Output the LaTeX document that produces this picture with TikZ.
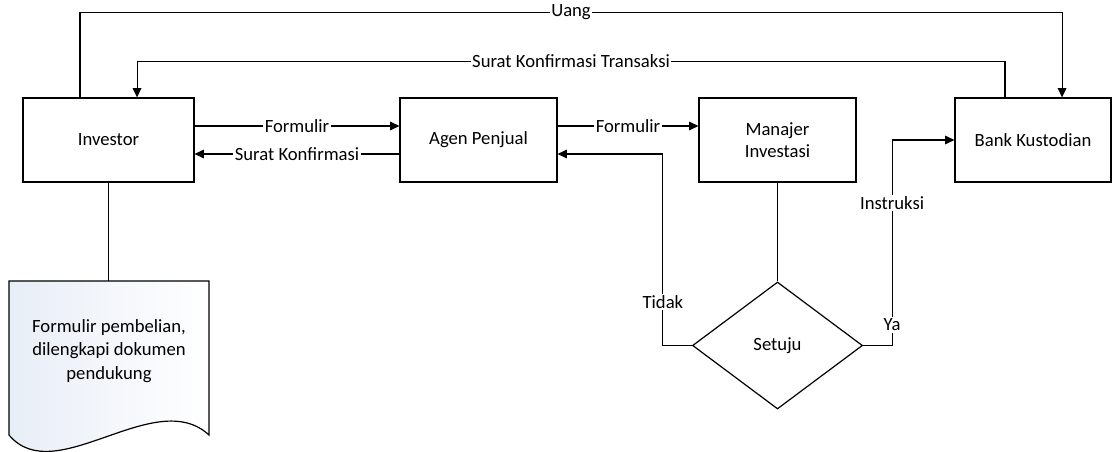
\documentclass[tikz,border=0pt]{standalone}
\usepackage{fontspec}
\setmainfont{Carlito}
\usetikzlibrary{shapes.geometric,arrows.meta,shadows}
\definecolor{docshade}{RGB}{232,238,247}
\tikzset{
  box/.style={draw, line width=0.9pt, fill=white, minimum height=63pt, inner sep=2pt, align=center,
    drop shadow={opacity=0.12, shadow xshift=1pt, shadow yshift=-1pt}},
  lbl/.style={fill=white, inner sep=1.2pt},
}
\begin{document}
\begin{tikzpicture}[x=0.75pt, y=-0.75pt, >={Triangle[length=7pt,width=6.5pt]},
   line width=0.8pt, font=\fontsize{14}{16.5}\selectfont]
   \useasboundingbox (0,0) rectangle (1112,452);

   \path (108.5,140) node[box, minimum width=128.25pt] (inv) {Investor}
   (478.5,140) node[box, minimum width=117.75pt] (agen) {Agen Penjual};
   \path (777.5,140) node[box, minimum width=117.75pt] (mi) {Manajer\\Investasi}
   (1033,140) node[box, minimum width=117pt] (bank) {Bank Kustodian};
   \path (777.5,345.5) node[diamond, draw, line width=0.9pt, fill=white, inner sep=0pt,
      minimum width=127.5pt, minimum height=95.25pt] (dia) {Setuju};

   % dokumen
   \draw[line width=0.9pt, left color=docshade, right color=white]
   (9,281) -- (209,281) -- (209,435) .. controls (155,385) and (55,490) .. (9,435) -- cycle;
   \path (109,351) node[align=center, font=\fontsize{14}{17.5}\selectfont] (doc)
      {Formulir pembelian,\\dilengkapi dokumen\\pendukung};
   \coordinate (doctop) at (108.5,281);
   \coordinate (agin) at ([yshift=-10.5pt]agen.east);

   \draw[->] ([yshift=10.5pt]inv.east) -- node[lbl] {Formulir} ([yshift=10.5pt]agen.west);
   \draw[->] ([yshift=-10.5pt]agen.west) -- node[lbl] {Surat Konfirmasi} ([yshift=-10.5pt]inv.east);
   \draw[->] ([yshift=10.5pt]agen.east) -- node[lbl] {Formulir} ([yshift=10.5pt]mi.west);

   \draw[->] ([xshift=-21.4pt]inv.north) -- ++(0,-85.3) -| node[lbl, pos=0.25] {Uang} ([xshift=21.8pt]bank.north);
   \draw[->] ([xshift=-21pt]bank.north) -- ++(0,-36) -| node[lbl, pos=0.25] {Surat Konfirmasi Transaksi} ([xshift=21.4pt]inv.north);

   \draw (inv.south) -- (doctop);
   \draw (mi.south) -- (dia.north);

   \draw[->] (dia.west) -- ++(-29,0) coordinate (td) -- node[lbl, pos=0.227] {Tidak} (td |- agin) -- (agin);
   \draw[->] (dia.east) -- ++(29,0) coordinate (ya) -- node[lbl, pos=0.1] {Ya} node[lbl, pos=0.693] {Instruksi} (ya |- bank.west) -- (bank.west);

\end{tikzpicture}
\end{document}
